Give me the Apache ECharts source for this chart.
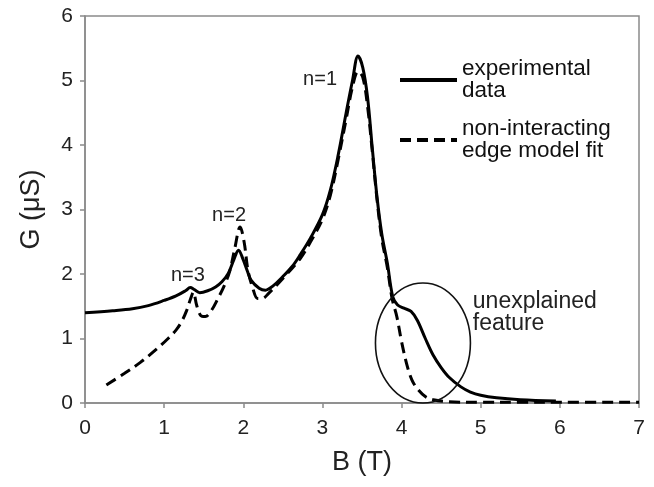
<!DOCTYPE html>
<html>
<head>
<meta charset="utf-8">
<script src="https://cdn.jsdelivr.net/npm/echarts@6/dist/echarts.min.js"></script>
<style>
  html, body { margin: 0; padding: 0; background: #fff; }
  #main { width: 654px; height: 487px; }
</style>
</head>
<body>
<div id="main"></div>
<script>
// experimental data (solid)
const expB = [0, 0.35, 0.6, 0.8, 1.0, 1.15, 1.27, 1.33, 1.38, 1.45, 1.55, 1.65, 1.73, 1.81, 1.88, 1.94, 1.99, 2.05, 2.1, 2.2, 2.28, 2.38, 2.5, 2.62, 2.72, 2.85, 3.0, 3.1, 3.2, 3.3, 3.38, 3.45, 3.51, 3.57, 3.63, 3.69, 3.75, 3.82, 3.89, 3.95, 4.03, 4.12, 4.2, 4.3, 4.4, 4.5, 4.6, 4.75, 4.87, 5.0, 5.2, 5.5, 5.95]
const expG = [1.40, 1.43, 1.46, 1.51, 1.59, 1.66, 1.74, 1.79, 1.76, 1.71, 1.74, 1.80, 1.88, 2.01, 2.22, 2.37, 2.25, 2.05, 1.90, 1.78, 1.75, 1.82, 1.96, 2.12, 2.30, 2.56, 2.92, 3.30, 3.85, 4.5, 5.0, 5.38, 5.2, 4.74, 3.95, 3.19, 2.62, 2.17, 1.64, 1.52, 1.47, 1.42, 1.28, 1.0, 0.74, 0.55, 0.40, 0.25, 0.17, 0.12, 0.08, 0.05, 0.03]

// non-interacting edge model fit (dashed)
const fitB = [0.27, 0.5, 0.7, 0.9, 1.05, 1.15, 1.22, 1.28, 1.33, 1.37, 1.41, 1.46, 1.52, 1.6, 1.68, 1.76, 1.83, 1.89, 1.96, 2.01, 2.06, 2.12, 2.18, 2.24, 2.32, 2.5, 2.72, 2.85, 3.0, 3.1, 3.2, 3.3, 3.38, 3.45, 3.51, 3.57, 3.63, 3.69, 3.75, 3.82, 3.88, 3.94, 4.0, 4.07, 4.13, 4.2, 4.3, 4.4, 4.6, 5.0, 5.5, 6.0, 7.0]
const fitG = [0.28, 0.46, 0.63, 0.83, 1.0, 1.13, 1.26, 1.42, 1.6, 1.72, 1.52, 1.36, 1.34, 1.44, 1.62, 1.82, 2.05, 2.38, 2.73, 2.5, 2.05, 1.78, 1.62, 1.62, 1.7, 1.93, 2.24, 2.5, 2.85, 3.22, 3.78, 4.4, 4.9, 5.14, 5.05, 4.6, 3.9, 3.15, 2.55, 2.1, 1.62, 1.34, 0.95, 0.58, 0.36, 0.22, 0.1, 0.05, 0.02, 0.01, 0.01, 0.01, 0.01]

// text annotations: [label, B, G]
const notes = [['n=1', 2.97, 5.01], ['n=2', 1.82, 2.90], ['n=3', 1.30, 1.98]]
const featureNote = ['unexplained\nfeature', 4.9, 1.40]
// ellipse round the feature: centre B, centre G, half width (T), half height (µS)
const featureEllipse = [4.27, 0.93, 0.60, 0.93]

const font = "'Liberation Sans', Arial, sans-serif"
const pairs = (xs, ys) => xs.map((x, i) => [x, ys[i]])

const chart = echarts.init(document.getElementById('main'))

const axisCommon = {
  axisLine: { show: true, lineStyle: { color: '#8a8a8a', width: 1.5 } },
  axisTick: { show: true, inside: false, length: 5, lineStyle: { color: '#8a8a8a', width: 1.5 } },
  splitLine: { show: false },
  axisLabel: { color: '#222', fontSize: 21, fontFamily: font },
  nameLocation: 'middle',
  nameTextStyle: { color: '#222', fontSize: 27, fontFamily: font }
}

chart.setOption({
  animation: false,
  backgroundColor: '#fff',
  grid: {
    left: 85, right: 15, top: 16, bottom: 84,
    show: true, borderColor: '#8a8a8a', borderWidth: 1.5
  },
  legend: {
    orient: 'vertical',
    left: 393,
    top: 38,
    itemWidth: 57,
    itemHeight: 14,
    itemGap: -14,
    itemStyle: { opacity: 0 },
    lineStyle: { width: 4 },
    textStyle: {
      color: '#111', fontSize: 22.5, fontFamily: font,
      lineHeight: 22, padding: [30, 0, 0, 0]
    },
    data: [
      { name: 'experimental\ndata' },
      { name: 'non-interacting\nedge model fit' }
    ]
  },
  xAxis: Object.assign({}, axisCommon, {
    type: 'value', min: 0, max: 7, interval: 1,
    name: 'B (T)', nameGap: 46,
    axisLabel: Object.assign({}, axisCommon.axisLabel, { margin: 15 })
  }),
  yAxis: Object.assign({}, axisCommon, {
    type: 'value', min: 0, max: 6, interval: 1,
    name: 'G (μS)', nameGap: 40,
    axisLabel: Object.assign({}, axisCommon.axisLabel, { margin: 12 })
  }),
  series: [
    {
      name: 'experimental\ndata',
      type: 'line',
      data: pairs(expB, expG),
      smooth: 0.35,
      showSymbol: false,
      symbol: 'none',
      lineStyle: { color: '#000', width: 3 },
      itemStyle: { color: '#000' },
      z: 3,
      markPoint: {
        symbol: 'circle',
        symbolSize: 0,
        silent: true,
        label: {
          show: true, position: 'inside', formatter: '{b}',
          color: '#222', fontSize: 20, fontFamily: font
        },
        data: notes.map(n => ({ name: n[0], coord: [n[1], n[2]] })).concat([{
          name: featureNote[0],
          coord: [featureNote[1], featureNote[2]],
          label: { align: 'left', fontSize: 23, lineHeight: 22 }
        }])
      }
    },
    {
      name: 'non-interacting\nedge model fit',
      type: 'line',
      data: pairs(fitB, fitG),
      smooth: 0.35,
      showSymbol: false,
      symbol: 'none',
      lineStyle: { color: '#000', width: 3, type: [11, 6] },
      itemStyle: { color: '#000' },
      z: 2
    }
  ]
})

// ellipse drawn from data coordinates
const [ecx, ecy, erx, ery] = featureEllipse
const c = chart.convertToPixel({ gridIndex: 0 }, [ecx, ecy])
const e = chart.convertToPixel({ gridIndex: 0 }, [ecx + erx, ecy + ery])
chart.setOption({
  graphic: [{
    type: 'ellipse',
    silent: true,
    z: 10,
    shape: { cx: c[0], cy: c[1], rx: Math.abs(e[0] - c[0]), ry: Math.abs(e[1] - c[1]) },
    style: { fill: 'none', stroke: '#111', lineWidth: 1.6 }
  }]
})
</script>
</body>
</html>
